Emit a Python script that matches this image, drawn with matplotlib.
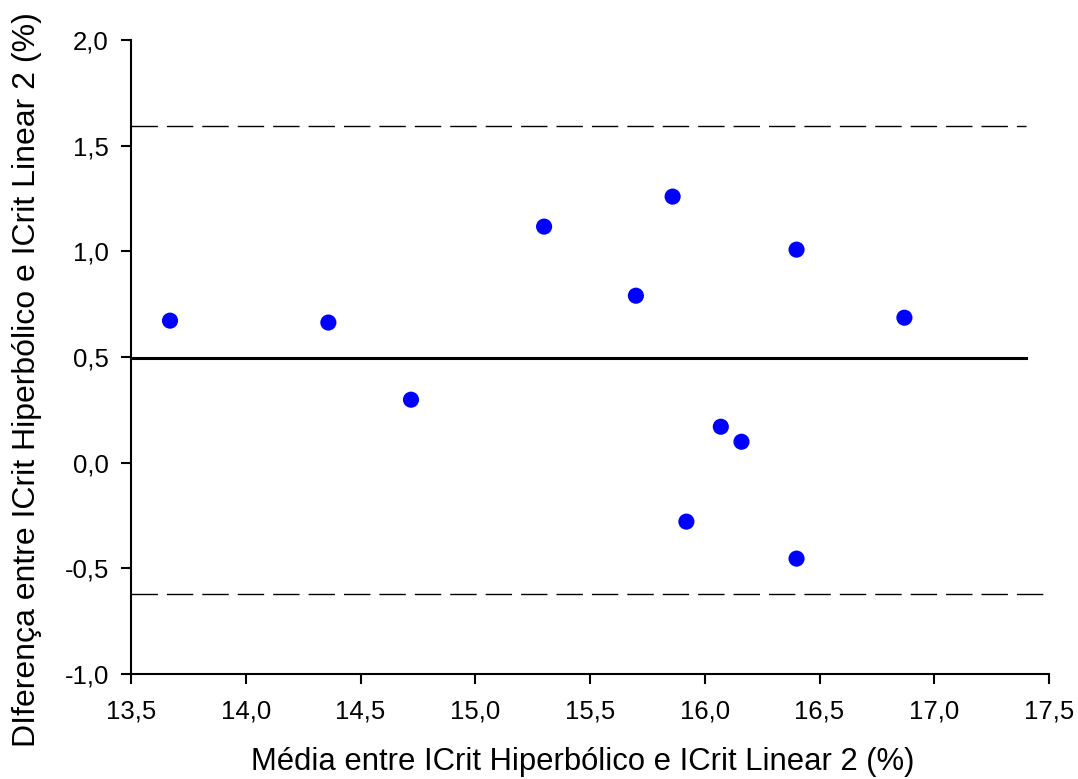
import matplotlib
matplotlib.use("Agg")
import matplotlib.pyplot as plt

plt.rcParams['font.family'] = ['Liberation Sans', 'DejaVu Sans']

media = [13.67, 14.36, 14.72, 15.30, 15.70, 15.86, 16.40, 16.87, 16.07, 16.16, 15.92, 16.40]
diferenca = [0.672, 0.663, 0.298, 1.117, 0.790, 1.259, 1.008, 0.686, 0.170, 0.099, -0.279, -0.454]
vies = 0.497
lim_sup = 1.595
lim_inf = -0.62
xticks = [13.5, 14.0, 14.5, 15.0, 15.5, 16.0, 16.5, 17.0, 17.5]
yticks = [-1.0, -0.5, 0.0, 0.5, 1.0, 1.5, 2.0]

fig = plt.figure(figsize=(10.78, 7.79), dpi=100)
ax = fig.add_axes([131/1078, 1-674/779, (1049-131)/1078, (674-40)/779])

ax.plot([13.5, 17.40], [vies, vies], color='black', lw=2.2, zorder=2)
ax.plot([13.5, 17.40], [lim_sup, lim_sup], color='black', lw=1, dashes=(19, 6.5), zorder=2)
ax.plot([13.5, 17.49], [lim_inf, lim_inf], color='black', lw=1, dashes=(19, 6.5), zorder=2, clip_on=False)
ax.scatter(media, diferenca, s=135, color='#0000ff', edgecolors='none', zorder=3)

ax.set_xlim(13.5, 17.5)
ax.set_ylim(-1.0, 2.0)
ax.set_xticks(xticks)
ax.set_yticks(yticks)
ax.set_xticklabels([f"{v:.1f}".replace('.', ',') for v in xticks])
ax.set_yticklabels([f"{v:.1f}".replace('.', ',') for v in yticks])
for s in ['top', 'right']:
    ax.spines[s].set_visible(False)
for s in ['left', 'bottom']:
    ax.spines[s].set_linewidth(1.5)
ax.tick_params(direction='out', length=7, width=1.5, labelsize=18.5)
ax.tick_params(axis='x', pad=11)
ax.tick_params(axis='y', pad=9)

ax.set_xlabel('Média entre ICrit Hiperbólico e ICrit Linear 2 (%)', fontsize=22.3)
ax.set_ylabel('DIferença entre ICrit Hiperbólico e ICrit Linear 2 (%)', fontsize=23)
ax.xaxis.set_label_coords((583-131)/918, (674-762)/634)
ax.xaxis.label.set_va('center')
ax.yaxis.set_label_coords((27-131)/918, (674-380)/634)
ax.yaxis.label.set_va('center')
ax.yaxis.label.set_rotation_mode('default')

fig.savefig('out.png', dpi=100)
